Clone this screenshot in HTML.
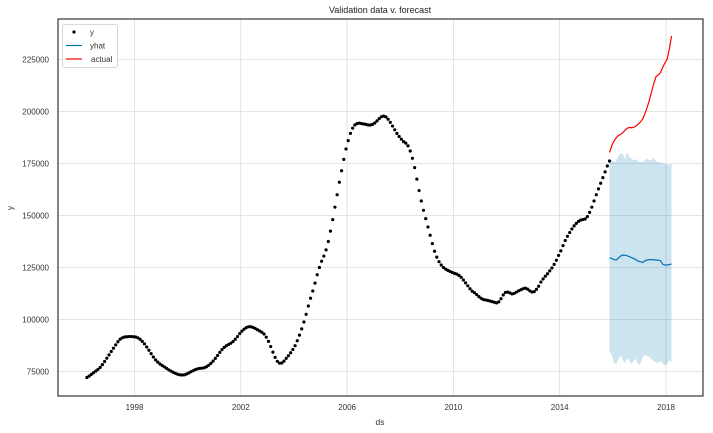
<!DOCTYPE html>
<html><head><meta charset="utf-8"><style>
html,body{margin:0;padding:0;background:#fff;}
svg{display:block;font-family:"Liberation Sans",Arial,sans-serif;}
</style></head><body>
<svg id="chart" width="713" height="433" viewBox="0 0 713 433" xmlns="http://www.w3.org/2000/svg">
<g id="grid"></g>
<g id="band"></g>
<g id="series"></g>
<g id="axes"></g>
<text x="380" y="13" font-size="9" text-anchor="middle" fill="#222">Validation data v. forecast</text>
<text x="380" y="425" font-size="8.5" text-anchor="middle" fill="#333">ds</text>
<text x="13" y="208" font-size="8.5" text-anchor="middle" fill="#333" transform="rotate(-90 13 208)">y</text>
<g>
<rect x="62.5" y="24.5" width="55" height="43" fill="#fff" stroke="#ccc" stroke-width="0.8" rx="2"/>
<circle cx="74" cy="32" r="1.6" fill="#000"/>
<text x="90" y="35" font-size="8" fill="#333">y</text>
<line x1="66" y1="45.5" x2="82" y2="45.5" stroke="#0072B2" stroke-width="1.2"/>
<text x="90" y="48.5" font-size="8" fill="#333">yhat</text>
<line x1="66" y1="59" x2="82" y2="59" stroke="#ff0000" stroke-width="1.2"/>
<text x="91" y="62" font-size="8" fill="#333">actual</text>
</g>
</svg>
<script>
const histStart = 1996 + 2.5/12;
const histValues = [
72.1,72.8,73.6,74.4,75.2,76.0,77.0,78.3,79.8,81.4,
83.0,84.6,86.2,87.8,89.3,90.5,91.2,91.6,91.7,91.8,91.8,91.7,
91.6,91.2,90.5,89.5,88.3,86.8,85.2,83.6,82.0,80.6,79.5,78.6,
77.9,77.2,76.5,75.8,75.2,74.6,74.1,73.7,73.4,73.3,73.4,73.8,
74.3,74.9,75.4,75.9,76.3,76.5,76.6,76.8,77.3,78.0,78.9,80.0,
81.3,82.7,84.2,85.5,86.6,87.4,88.0,88.6,89.4,90.5,91.8,93.2,
94.4,95.4,96.1,96.5,96.5,96.2,95.7,95.1,94.5,93.9,93.0,91.5,
89.5,87.0,84.3,81.8,79.9,79.0,79.1,80.0,81.3,82.6,84.0,85.6,
87.4,89.8,92.5,95.5,98.8,102.5,106.5,110.2,113.7,117.5,121.5,125.0,
128.0,130.5,133.5,137.5,142.5,148.0,154.0,160.0,166.0,171.5,177.0,182.0,
186.0,189.5,192.0,193.5,194.2,194.4,194.2,194.0,193.8,193.5,193.5,193.8,
194.5,195.5,196.6,197.5,197.8,197.4,196.3,194.8,193.0,191.2,189.5,188.0,
186.7,185.5,184.8,183.5,181.0,177.5,173.0,167.5,162.0,157.0,152.5,148.5,
144.5,140.5,136.5,132.8,130.0,127.8,126.2,125.0,124.2,123.6,123.1,122.6,
122.2,121.8,121.2,120.3,119.0,117.6,116.2,114.8,113.6,112.9,112.0,111.0,
110.2,109.6,109.4,109.2,108.9,108.6,108.3,108.0,108.5,110.0,111.8,113.0,
113.2,112.8,112.3,112.6,113.2,113.8,114.3,114.8,115.1,114.6,113.8,113.2,
113.4,114.5,116.0,118.0,119.5,120.8,122.0,123.4,124.8,126.5,128.5,130.8,
133.0,135.5,138.0,140.0,141.8,143.5,145.0,146.2,147.2,147.8,148.1,148.3,
149.5,151.5,154.0,157.0,160.0,162.8,165.5,168.2,171.0,173.8,176.2];
const fcStart = 2015 + 10.5/12;
const actualValues = [180.3,183.5,185.8,187.3,188.5,189.0,189.8,191.0,192.0,192.3,192.2,192.4,193.0,194.0,195.0,196.5,199,202,205.5,209.5,213.5,216.8,217.6,218.6,221.2,223.3,225,230,236.3];
const yhatValues = [129.7,129.3,128.8,128.6,129.5,130.5,131.0,130.9,130.6,130.2,129.7,129.3,128.7,128.0,127.8,127.4,128.2,128.6,128.8,128.8,128.7,128.6,128.5,128.3,126.6,126.2,126.2,126.4,126.7];
const upperValues = [175.5,176.5,175.8,176.2,178.5,180.0,179.5,177.0,180.5,178.0,177.2,176.5,177.0,176.0,175.6,175.8,176.5,177.2,176.5,176.8,177.8,176.0,175.8,175.5,175.0,174.8,174.5,174.5,174.8];
const lowerValues = [84.5,83.0,79.0,78.5,81.0,82.5,80.5,79.0,81.5,80.0,78.5,80.5,81.0,78.0,79.0,82.0,83.0,82.5,82.0,81.0,80.0,79.5,79.0,80.0,79.0,78.0,78.5,80.5,79.5];
const xTicks = [1998,2002,2006,2010,2014,2018];
const yTicks = [75000,100000,125000,150000,175000,200000,225000];

const L=58,R=703,T=19,B=396;
const NS='http://www.w3.org/2000/svg';
function X(t){return 134.5+(t-1998)*26.575;}
function Y(v){return 59.5+(225000-v)/25000*52;}
function mk(tag,attrs,parent){const e=document.createElementNS(NS,tag);for(const k in attrs)e.setAttribute(k,attrs[k]);parent.appendChild(e);return e;}
const grid=document.getElementById('grid'),band=document.getElementById('band'),series=document.getElementById('series'),axes=document.getElementById('axes');

xTicks.forEach(t=>{
  const l=mk('line',{x1:X(t),x2:X(t),y1:T,y2:B,stroke:'#dcdcdc','stroke-width':0.8},grid);
  
  
  const tx=mk('text',{x:X(t),y:B+14,'font-size':8,'text-anchor':'middle',fill:'#333'},axes);
  tx.textContent=t;
  
  
});
yTicks.forEach(v=>{
  const l=mk('line',{x1:L,x2:R,y1:Y(v),y2:Y(v),stroke:'#dcdcdc','stroke-width':0.8},grid);
  
  
  const tx=mk('text',{x:L-9,y:Y(v)+3,'font-size':8,'text-anchor':'end',fill:'#333'},axes);
  tx.textContent=v;
  
  
});

// band
let pts=[];
upperValues.forEach((v,i)=>pts.push(X(fcStart+i/12).toFixed(2)+','+Y(v*1000).toFixed(2)));
for(let i=lowerValues.length-1;i>=0;i--)pts.push(X(fcStart+i/12).toFixed(2)+','+Y(lowerValues[i]*1000).toFixed(2));
const bp=mk('polygon',{points:pts.join(' '),fill:'#0072B2','fill-opacity':0.2,stroke:'none'},band);



// history dots
histValues.forEach((v,i)=>{
  const c=mk('circle',{cx:X(histStart+i/12),cy:Y(v*1000),r:1.6,fill:'#000'},series);
  
  
});
function line(vals,color,name){
  const d=vals.map((v,i)=>(i?'L':'M')+X(fcStart+i/12).toFixed(2)+' '+Y(v*1000).toFixed(2)).join(' ');
  const p=mk('path',{d:d,fill:'none',stroke:color,'stroke-width':1.2},series);
  
  
}
line(yhatValues,'#0072B2','yhat-line');
line(actualValues,'#ff0000','actual-line');

const fr=mk('rect',{x:L,y:T,width:R-L,height:B-T,fill:'none',stroke:'#222','stroke-width':1.1},axes);


</script>
</body></html>
